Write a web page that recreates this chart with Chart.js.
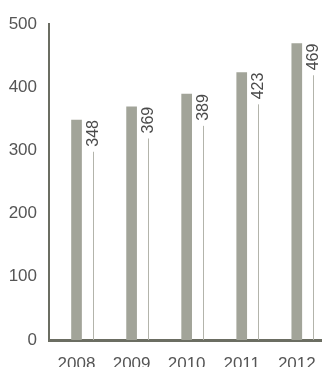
<!DOCTYPE html>
<html>
<head>
<meta charset="utf-8">
<script src="https://cdn.jsdelivr.net/npm/chart.js@4/dist/chart.umd.min.js"></script>
<style>
  html, body { margin: 0; padding: 0; background: #fff; overflow: hidden; }
  #wrap { width: 330px; height: 385px; }
</style>
</head>
<body>
<div id="wrap"><canvas id="yearChart"></canvas></div>
<script>
const years = ['2008', '2009', '2010', '2011', '2012'];
const totals = [348, 369, 389, 423, 469];
const yTicks = [0, 100, 200, 300, 400, 500];

const BAR_COLOR = '#a2a499';
const AXIS_COLOR = '#6b6d62';
const TEXT_COLOR = '#555555';

// draws the rotated value next to each bar with a thin line down to the axis
const valueLabels = {
  id: 'valueLabels',
  afterDatasetsDraw(chart) {
    const { ctx, scales } = chart;
    const base = scales.y.getPixelForValue(0);
    ctx.save();
    ctx.font = '16px "Liberation Sans", Arial, sans-serif';
    ctx.fillStyle = '#4a4a4a';
    ctx.strokeStyle = '#b3b4ab';
    ctx.lineWidth = 1;
    totals.forEach((value, i) => {
      const x = Math.round(scales.x.getPixelForValue(i) + 16) + 0.5;
      const top = scales.y.getPixelForValue(value);
      const textWidth = ctx.measureText(String(value)).width;

      ctx.save();
      ctx.translate(x, top);
      ctx.rotate(-Math.PI / 2);
      ctx.textAlign = 'right';
      ctx.textBaseline = 'middle';
      ctx.fillText(String(value), 0, 0);
      ctx.restore();

      ctx.beginPath();
      ctx.moveTo(x, top + textWidth + 5);
      ctx.lineTo(x, base);
      ctx.stroke();
    });
    ctx.restore();
  }
};

document.addEventListener('DOMContentLoaded', () => {
  const ctx = document.getElementById('yearChart').getContext('2d');

  new Chart(ctx, {
    type: 'bar',
    data: {
      labels: years,
      datasets: [{
        data: totals,
        backgroundColor: BAR_COLOR,
        barThickness: 10,
        borderWidth: 0
      }]
    },
    options: {
      responsive: true,
      maintainAspectRatio: false,
      animation: false,
      layout: { padding: { top: 24, right: 3, left: 0, bottom: 0 } },
      plugins: {
        legend: { display: false },
        tooltip: { enabled: false }
      },
      scales: {
        x: {
          grid: { display: false, drawTicks: false },
          border: { display: true, color: AXIS_COLOR, width: 3 },
          ticks: {
            color: TEXT_COLOR,
            font: { family: '"Liberation Sans", Arial, sans-serif', size: 17 },
            padding: 14,
            maxRotation: 0
          },
          afterFit(scale) { scale.height = 45; }
        },
        y: {
          min: 0,
          max: 500,
          afterBuildTicks(scale) { scale.ticks = yTicks.map(v => ({ value: v })); },
          grid: { display: false, drawTicks: false },
          border: { display: true, color: AXIS_COLOR, width: 2 },
          ticks: {
            color: TEXT_COLOR,
            font: { family: '"Liberation Sans", Arial, sans-serif', size: 17 },
            padding: 12
          },
          afterFit(scale) { scale.width = 49; }
        }
      }
    },
    plugins: [valueLabels]
  });
});
</script>
</body>
</html>
